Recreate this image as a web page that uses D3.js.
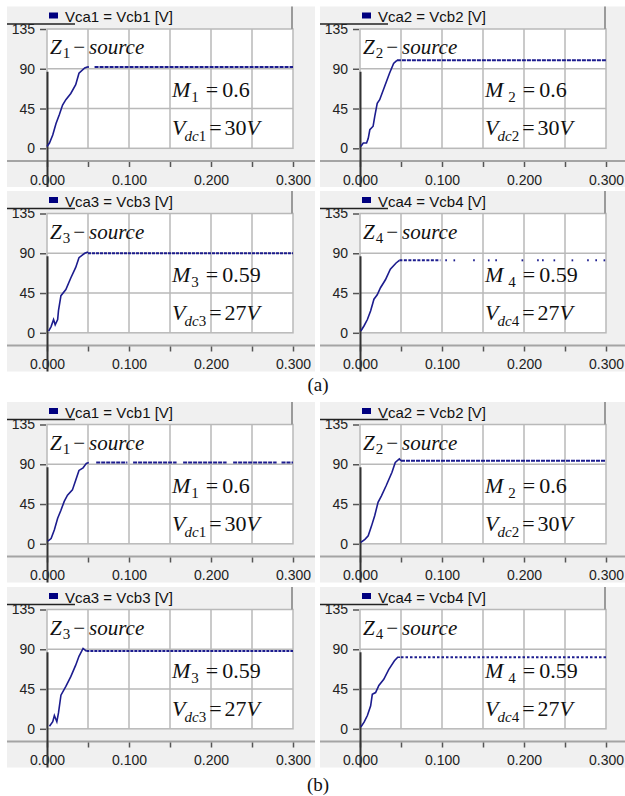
<!DOCTYPE html>
<html>
<head>
<meta charset="utf-8">
<script src="https://cdn.jsdelivr.net/npm/d3@7"></script>
<style>
  body { margin: 0; background: #fff; }
  svg { display: block; }
</style>
</head>
<body>
<svg id="chart" width="625" height="796"></svg>
<script>
// ---- data ----
const legendNames = ["Vca1 = Vcb1 [V]", "Vca2 = Vcb2 [V]", "Vca3 = Vcb3 [V]", "Vca4 = Vcb4 [V]"];
const sourceIdx = ["1", "2", "3", "4"];
const mValues = ["0.6", "0.6", "0.59", "0.59"];
const vdcValues = ["30", "30", "27", "27"];
const captions = ["(a)", "(b)"];

const xTicks = [0, 0.05, 0.1, 0.15, 0.2, 0.25, 0.3];
const xLabels = ["0.000", "", "0.100", "", "0.200", "", "0.300"];
const yTicks = [0, 45, 90, 135];

// start-up ramps [time s, voltage V]
const rampA1 = [[0, 2], [0.003, 6], [0.007, 15], [0.011, 28], [0.015, 38], [0.019, 49], [0.023, 55], [0.029, 62], [0.035, 72], [0.039, 85], [0.046, 91], [0.049, 92]];
const rampA2 = [[0.001, 2], [0.004, 6], [0.008, 6], [0.010, 11], [0.012, 21], [0.016, 25], [0.018, 36], [0.021, 51], [0.024, 55], [0.030, 70], [0.036, 85], [0.041, 96], [0.045, 99.5]];
const rampA3 = [[0.002, 2], [0.005, 7], [0.008, 15], [0.010, 9], [0.013, 15], [0.014, 25], [0.017, 42], [0.023, 49], [0.029, 62], [0.035, 74], [0.039, 85], [0.046, 90], [0.050, 91.5]];
const rampA4 = [[0.001, 2], [0.005, 8], [0.009, 15], [0.013, 25], [0.017, 38], [0.021, 43], [0.025, 51], [0.031, 60], [0.037, 72], [0.044, 79], [0.048, 82]];
const rampB1 = [[0.001, 3], [0.005, 6], [0.009, 16], [0.013, 29], [0.017, 38], [0.021, 48], [0.025, 55], [0.031, 61], [0.035, 72], [0.039, 83], [0.044, 86], [0.048, 91], [0.051, 92]];
const rampB2 = [[0.001, 1.5], [0.006, 5], [0.010, 9], [0.014, 20], [0.018, 32], [0.022, 47], [0.026, 54], [0.032, 66], [0.039, 81], [0.043, 92], [0.048, 96], [0.050, 94]];
const rampB3 = [[0.003, 3], [0.007, 8], [0.009, 15], [0.012, 8], [0.014, 18], [0.017, 38], [0.023, 48], [0.029, 59], [0.035, 72], [0.039, 82], [0.044, 91], [0.048, 88]];
const rampB4 = [[0.001, 2], [0.005, 7.5], [0.009, 15], [0.013, 26], [0.015, 39], [0.019, 41], [0.023, 49], [0.029, 56], [0.035, 67], [0.042, 77], [0.046, 81], [0.049, 81]];

// steady-state levels and the time spans where the sampled trace is visible
const levelA = [92, 99.5, 90, 82];
const levelB = [92, 94, 88, 81];
const spansA1 = [[0.049, 0.051], [0.058, 0.3]];
const spansA2 = [[0.045, 0.3]];
const spansA3 = [[0.050, 0.3]];
const spansA4 = [[0.048, 0.098], [0.104, 0.106], [0.114, 0.116], [0.138, 0.140], [0.156, 0.158], [0.165, 0.167], [0.197, 0.199], [0.216, 0.218], [0.222, 0.224], [0.236, 0.238], [0.258, 0.260], [0.277, 0.279], [0.287, 0.289], [0.297, 0.299]];
const spansB1 = [[0.06, 0.098], [0.105, 0.158], [0.166, 0.219], [0.227, 0.28], [0.286, 0.3]];
const spansB2 = [[0.050, 0.3]];
const spansB3 = [[0.048, 0.3]];
const spansB4 = [[0.050, 0.3]];

const partRamps = [[rampA1, rampA2, rampA3, rampA4], [rampB1, rampB2, rampB3, rampB4]];
const partLevels = [levelA, levelB];
const partSpans = [[spansA1, spansA2, spansA3, spansA4], [spansB1, spansB2, spansB3, spansB4]];

// ---- layout / style ----
const colX = [7, 320];
const partRowY = [[6.5, 191], [402, 587]];
const captionY = [391, 791];
const dashes = [["4,1", "4,1", "3,1", "3,1.5"], ["4,1", "4,1", "3,1", "2.5,2"]];

const BG_W = 308, BG_H = 180.5;
const PX = 40, PY = 22.5, PW = 246, PH = 119.3;
const AXIS_Y = 154.5;
const traceColor = "#1c1c8e";
const gridColor = "#b9b9b9";
const sans = "'Liberation Sans', Arial, sans-serif";
const serif = "'Liberation Serif', 'Times New Roman', serif";

const svg = d3.select("#chart");

function drawPanel(ox, oy, i, ramp, level, spans, dash) {
  const g = svg.append("g").attr("transform", `translate(${ox},${oy})`);

  const x = d3.scaleLinear().domain([0, 0.3]).range([PX, PX + PW]);
  const y = d3.scaleLinear().domain([0, 135]).range([PY + PH, PY]);
  const bgW = Math.min(BG_W, 625 - ox);

  // panel background
  g.append("rect")
    .attr("width", bgW).attr("height", BG_H)
    .attr("fill", "#f0f0f0");

  // plot area
  g.append("rect")
    .attr("x", PX).attr("y", PY).attr("width", PW).attr("height", PH)
    .attr("fill", "#fff");

  // grid
  g.append("g").selectAll("line")
    .data(xTicks.slice(1, -1))
    .enter().append("line")
    .attr("x1", d => x(d)).attr("x2", d => x(d))
    .attr("y1", PY).attr("y2", PY + PH)
    .attr("stroke", gridColor).attr("stroke-width", 1.5);
  g.append("g").selectAll("line")
    .data(yTicks.slice(1, -1))
    .enter().append("line")
    .attr("x1", PX).attr("x2", PX + PW)
    .attr("y1", d => y(d)).attr("y2", d => y(d))
    .attr("stroke", gridColor).attr("stroke-width", 1.5);
  g.append("rect")
    .attr("x", PX).attr("y", PY).attr("width", PW).attr("height", PH)
    .attr("fill", "none").attr("stroke", gridColor).attr("stroke-width", 1.5);

  // legend header
  g.append("line")
    .attr("x1", PX + PW - 1).attr("x2", PX + PW - 1)
    .attr("y1", 0).attr("y2", PY)
    .attr("stroke", "#9a9a9a").attr("stroke-width", 2);
  g.append("rect")
    .attr("x", PX + 2).attr("y", 6).attr("width", 9).attr("height", 6)
    .attr("fill", "#00007f");
  g.append("text")
    .attr("x", PX + 18).attr("y", 15.5)
    .attr("font-family", sans)
    .attr("font-size", 15)
    .attr("fill", "#111")
    .text(legendNames[i]);

  // x axis
  g.append("line")
    .attr("x1", 0).attr("x2", bgW)
    .attr("y1", AXIS_Y).attr("y2", AXIS_Y)
    .attr("stroke", "#a4a4a4").attr("stroke-width", 2);
  const xAxis = d3.axisBottom(x)
    .tickValues(xTicks)
    .tickSize(5)
    .tickPadding(8)
    .tickFormat((d, k) => xLabels[k]);
  const xg = g.append("g").attr("transform", `translate(0,${AXIS_Y + 1})`).call(xAxis);
  xg.select(".domain").remove();
  xg.selectAll(".tick line").attr("stroke", "#555").attr("stroke-width", 1.5);
  xg.selectAll(".tick text")
    .attr("font-family", sans)
    .attr("font-size", 14).attr("fill", "#222");

  // y axis
  const yAxis = d3.axisLeft(y).tickValues(yTicks).tickSize(6).tickPadding(5);
  const yg = g.append("g").attr("transform", `translate(${PX - 1},0)`).call(yAxis);
  yg.select(".domain").remove();
  yg.selectAll(".tick line").attr("stroke", "#555").attr("stroke-width", 1.5);
  yg.selectAll(".tick text")
    .attr("font-family", sans)
    .attr("font-size", 14).attr("fill", "#222");

  // cursor-like black lines
  g.append("line")
    .attr("x1", 0).attr("x2", 68).attr("y1", 17.5).attr("y2", 17.5)
    .attr("stroke", "#222").attr("stroke-width", 1.5);
  g.append("line")
    .attr("x1", x(0) + 0.5).attr("x2", x(0) + 0.5)
    .attr("y1", y(90) + 3).attr("y2", BG_H)
    .attr("stroke", "#333").attr("stroke-width", 2);

  // trace: ramp
  const line = d3.line().x(d => x(d[0])).y(d => y(d[1]));
  g.append("path")
    .datum(ramp)
    .attr("d", line)
    .attr("fill", "none")
    .attr("stroke", traceColor).attr("stroke-width", 1.6);

  // trace: steady state (sampled, dotted)
  g.append("g").selectAll("line")
    .data(spans)
    .enter().append("line")
    .attr("x1", d => x(d[0])).attr("x2", d => x(d[1]))
    .attr("y1", y(level)).attr("y2", y(level))
    .attr("stroke", traceColor).attr("stroke-width", 2)
    .attr("stroke-dasharray", dash);

  // annotations
  const t1 = g.append("text")
    .attr("x", PX + 3).attr("y", PY + 25)
    .attr("font-family", serif).attr("font-size", 21).attr("fill", "#111");
  t1.append("tspan").attr("font-style", "italic").text("Z");
  t1.append("tspan").attr("font-size", 15).attr("dy", 4).attr("dx", 1).text(sourceIdx[i]);
  t1.append("tspan").attr("dy", -4).attr("dx", 3).text("\u2212");
  t1.append("tspan").attr("font-style", "italic").attr("dx", 4).text("source");

  const t2 = g.append("text")
    .attr("x", PX + 125).attr("y", PY + 68)
    .attr("font-family", serif).attr("font-size", 22).attr("fill", "#111");
  t2.append("tspan").attr("font-style", "italic").text("M");
  t2.append("tspan").attr("font-size", 15).attr("dy", 5).attr("dx", i === 0 || i === 2 ? 1 : 5).text(sourceIdx[i]);
  t2.append("tspan").attr("dy", -5).attr("dx", 7).text("=");
  t2.append("tspan").attr("dx", 4).text(mValues[i]);

  const t3 = g.append("text")
    .attr("x", PX + 125).attr("y", PY + 106)
    .attr("font-family", serif).attr("font-size", 22).attr("fill", "#111");
  t3.append("tspan").attr("font-style", "italic").text("V");
  t3.append("tspan").attr("font-size", 15).attr("font-style", "italic").attr("dy", 6).attr("dx", -1).text("dc");
  t3.append("tspan").attr("font-size", 15).text(sourceIdx[i]);
  t3.append("tspan").attr("dy", -6).attr("dx", 3).text("=");
  t3.append("tspan").attr("dx", 3).text(vdcValues[i]);
  t3.append("tspan").attr("font-style", "italic").text("V");
}

for (let p = 0; p < 2; p++) {
  for (let i = 0; i < 4; i++) {
    const ox = colX[i % 2];
    const oy = partRowY[p][Math.floor(i / 2)];
    drawPanel(ox, oy, i, partRamps[p][i], partLevels[p][i], partSpans[p][i], dashes[p][i]);
  }
  svg.append("text")
    .attr("x", 318).attr("y", captionY[p])
    .attr("text-anchor", "middle")
    .attr("font-family", serif)
    .attr("font-size", 19).attr("fill", "#111")
    .text(captions[p]);
}
</script>
</body>
</html>
